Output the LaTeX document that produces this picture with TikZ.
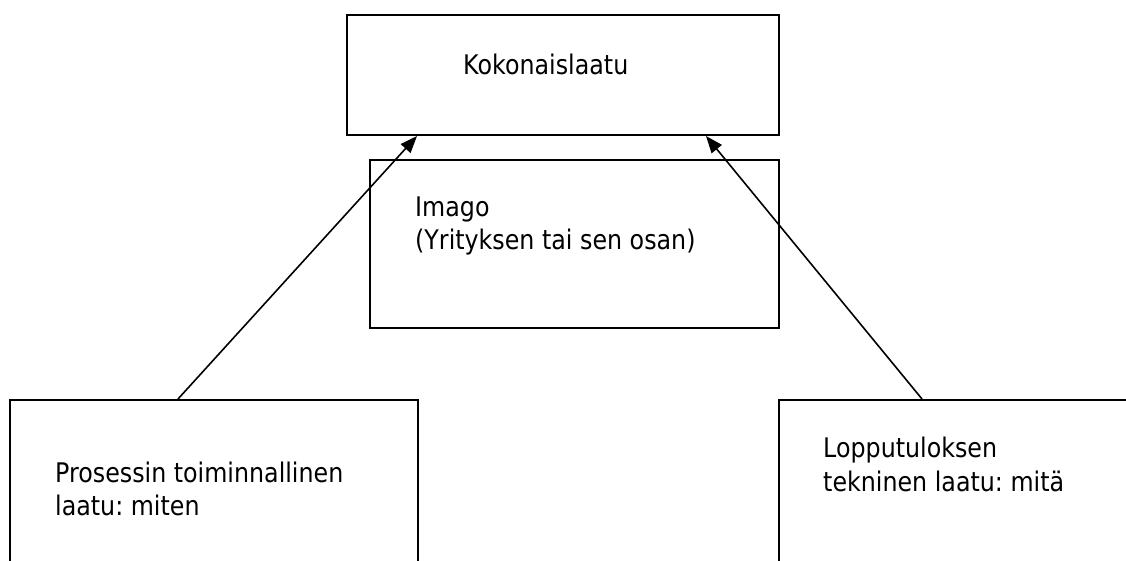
\documentclass[tikz,border=0pt]{standalone}
\usepackage{fontspec}
\setmainfont{DejaVu Sans}[FakeStretch=0.88]
\usetikzlibrary{arrows.meta,calc}
\tikzset{
  box/.style={draw=black, line width=2pt, rectangle, inner sep=0pt, anchor=north west},
  lbl/.style={anchor=base west, inner sep=0pt, font=\fontsize{27}{33}\selectfont},
  conn/.style={line width=1.6pt, -{Triangle[length=17pt,width=13pt]}}
}
\frenchspacing
\begin{document}
\begin{tikzpicture}[x=1pt,y=-1pt]
\useasboundingbox (0,0) rectangle (1126,561);
\clip (0,0) rectangle (1126,561);
\fill[white] (0,0) rectangle (1126,561);
% boxes
\node[box, minimum width=432pt, minimum height=120pt] (kok) at (346,14) {};
\node[box, minimum width=409pt, minimum height=168pt] (ima) at (369,159) {};
\node[box, minimum width=408pt, minimum height=220pt] (pro) at (9,399) {};
\node[box, minimum width=420pt, minimum height=220pt] (lop) at (778,399) {};
% texts
\node[lbl] (t1) at (463,75) {Kokonaislaatu};
\node[lbl] (t2) at (415,217) {Imago};
\node[lbl] (t3) at (415,250) {(Yrityksen tai sen osan)};
\node[lbl] (t4) at (55,482) {Prosessin toiminnallinen};
\node[lbl] (t5) at (55,515) {laatu: miten};
\node[lbl] (t6) at (823,457) {Lopputuloksen};
\node[lbl] (t7) at (823,491) {tekninen laatu: mitä};
% connectors
\draw[conn] ([xshift=169pt]pro.north west) -- ([xshift=71pt]kok.south west);
\draw[conn] ([xshift=144pt]lop.north west) -- ([xshift=360pt]kok.south west);
\end{tikzpicture}
\end{document}
